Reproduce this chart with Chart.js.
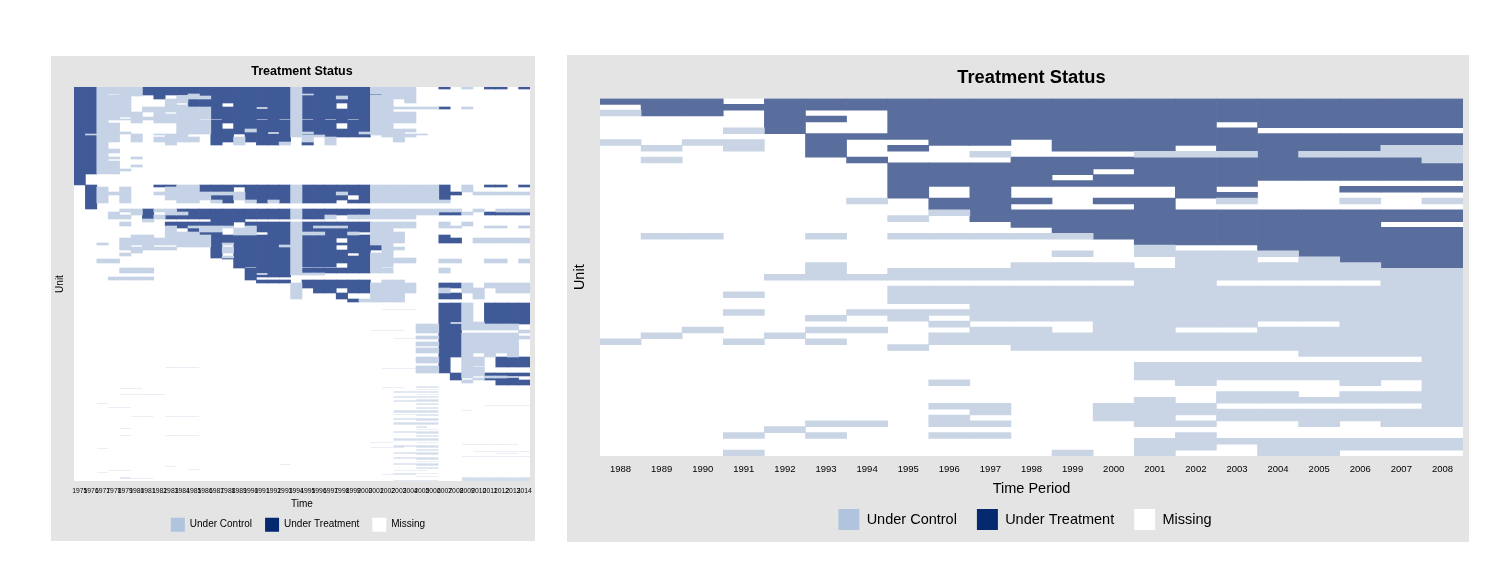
<!DOCTYPE html>
<html><head><meta charset="utf-8">
<script src="https://cdn.jsdelivr.net/npm/chart.js@4"></script>
<style>
html,body{margin:0;padding:0;background:#fff;width:1498px;height:578px;overflow:hidden}
.panel{position:absolute;background:#E4E4E4}
canvas{position:absolute}
</style></head><body>
<div class="panel" style="left:51px;top:56px;width:484px;height:485px"></div>
<div class="panel" style="left:567px;top:55px;width:902px;height:487px"></div>
<div style="position:absolute;left:51px;top:56px;width:484px;height:517px"><canvas id="left"></canvas></div>
<div style="position:absolute;left:567px;top:55px;width:902px;height:500px"><canvas id="right"></canvas></div>
<script>
const statusNames = ['Under Control','Under Treatment','Missing'];
const legendColors = ['#B0C4DE','#05296E','#FFFFFF'];
const rightCellColors = ['#C9D5E5','#5A6E9E','#FFFFFF'];
const leftCellColors = ['#C6D3E6','#3F5A97','#FFFFFF','#D3DDEB'];

/* ---- right panel: 1988-2008, 61 unit rows ---- */
const rightYears = ['1988','1989','1990','1991','1992','1993','1994','1995','1996','1997','1998','1999','2000','2001','2002','2003','2004','2005','2006','2007','2008'];
const rightRowCount = 61;
const rightTreated = [
 '0','0-2','0-2','1','0-5','0-1,3,6-9','0-1,6,10','0-6,8,11-16','0-7,11-14,17-18','0-7,11-20',
 '0-6,10-14,17,19-21','0-8,10-12,14,19-22','0-8,10-11,13-14,17,19-23','0-8,10-14,17-24','0-7,10-16,19-24',
 '0-3,5-8,10-14,16,19-24','0-4,6-13,19-25','0-4,6-8,10-13,19-26','0-4,6-8,10-13,15,19-27',
 '0-4,6-7,10-13,15,19-20,22-28','0-4,6-7,11-13,15,19-20,22-28'];
const rightControl = [
 '2,7,41','8,10,23,40','7,23,39','5,7-8,33,36,41,57,60','30,40,56','23,28-30,37,39,41,55,57','17,30,36,39,55',
 '20,23,29-30,32-34,36-37,42','19,23,29-30,32-34,36,38,40-41,48,52,54-55,57','9,23,29-30,32-37,39-41,52-53,55,57',
 '23,28-30,32-37,39-42','23,26,28-30,32-37,40-42,60','28-30,32-42,52-54','9,25-26,29-42,45-47,51-55,58-60',
 '9,26-38,40-42,45-48,52-53,55,57-59','9,17,26-30,32-38,40-42,45-47,50-51,53-54,58',
 '9,26,28-30,32-37,39-42,45-47,50-51,53-54,58-60','9,27-30,32-37,39-43,45-47,51,53-55,58-60',
 '9,17,28-30,32-43,45-48,50-51,53-54,58-59','8-9,29-43,45-47,50-51,53-55,58-59','8-10,17,29-55,58-59'];

/* ---- left panel: 1975-2014, 394 unit rows ---- */
const leftYears = ['1975','1976','1977','1978','1979','1980','1981','1982','1983','1984','1985','1986','1987','1988','1989','1990','1991','1992','1993','1994','1995','1996','1997','1998','1999','2000','2001','2002','2003','2004','2005','2006','2007','2008','2009','2010','2011','2012','2013','2014'];
const leftRowCount = 394;
/* [first row, status of each year: t treated, c control, . missing] */
const leftBands = [
 [0,'ttcccctttt tttttttttc ttttttcccc ..t.c.tt.t'],
 [2,'ttcccctttt tttttttttc ttttttcccc'],
 [7,'ttc.cctttt cttttttttc cttttttccc'],
 [8,'ttcccc.t.. cttttttttc ttttttcccc'],
 [9,'ttccc..t.c cctttttttc tttcttcccc'],
 [12,'ttccc...cc tttttttttc ttttttcc.c'],
 [16,'ttccc...c. ttt.tttttc ttt.ttcc..'],
 [18,'ttccc...cc ttt.tttttc ttt.ttcc..'],
 [20,'ttccc.cccc cctttt.ttc ttt.ttcccc cct.c.....'],
 [22,'ttccc.cccc cctttttttc ttttttcc..'],
 [25,'ttcccc.c.c cctttttttc ttttttcccc'],
 [27,'ttcccc.ccc cctttttttc ttttttcccc'],
 [30,'ttcc.ccccc cctttttttc ttttttcccc'],
 [32,'ttcccccccc c..ttt.t.c .t.t.tcccc'],
 [33,'ttc..c.ccc cctttttttc ttttttcccc'],
 [36,'ttcc.....c cct.tttttc ttt.ttcc..'],
 [42,'ttcc.....c cctttctttc ttttttcccc'],
 [45,'ttccc....c ccttttt.tc cttttcccc.'],
 [47,'tccc.c.ccc ..tt.ttttc ttttttcccc c.........'],
 [48,'ttcc.c..cc ..tt.ttttc cctttt.ccc'],
 [50,'ttcc.c.ccc c.ttctttt. c.c.....c.'],
 [55,'ttc.....c. ..t.c.ttc. t.c.......'],
 [58,'ttc'],[62,'ttcc'],[66,'ttc'],[70,'ttcc.c'],[72,'ttc'],[74,'ttcc'],[78,'ttcc.c'],[80,'ttcc'],[82,'ttccc'],[84,'ttcc'],
 [87,'t'],
 [98,'.t.....ttc cttttttttc ttttttcccc cct.c.tt.t'],
 [100,'.tc.c...cc cttt.ttttc ttttttcccc cct.c.....'],
 [105,'.tccc..ccc cccccttttc tttcttcccc cctt.ccccc'],
 [108,'.tc.c...cc ccttcttttc tttt.tcccc cct.......'],
 [113,'.tc.c....c c.ct.ctctc ttt.ttcccc ccc.......'],
 [116,'.t'],
 [122,'....cctcct tttttttttc ttttttcccc cccc.c.ccc'],
 [125,'...c.ct.cc tttttttttc ttttttcccc cctt c.tttt'],
 [128,'...cc.tctt tttttttttc ttc.cccccc'],
 [132,'......c... ..ttt.....'],
 [135,'....c...tt tttt.ttttc ttttttcccc ..c.c.....'],
 [139,'........ct cccc.ctttc tcccttcccc ..cc..cc.c'],
 [141,'........c. tcc.cctttc ttttttcc..'],
 [145,'........cc ctt.cc.ttc ccttc.ccc.'],
 [148,'.....cc.cc cctttttttc ttttttccc. ..t.......'],
 [151,'....cccccc cctttttttc ttt.ttccc. ..tt.ccccc'],
 [156,'..c.cccccc cctctttttc ttttttcc..'],
 [158,'....c.c..c cct.ttttcc ttt.tttc..'],
 [160,'....ccccc. ..tctttttc ttt.tttcc.'],
 [163,'.....c.... ..tctttttc tttttt.c..'],
 [166,'....c..... ..t.tttttc tttt.tcc..'],
 [169,'.......... ..tctttttc ttttttcc..'],
 [171,'.......... ...ttttttc ttttttcccc'],
 [172,'..cc...... ....tttttc ttttttcccc ..cc..cc.c'],
 [176,'.......... ....tttttc ttt.ttcc..'],
 [180,'.......... ....t.tttc ....ttc...'],
 [181,'....ccc... .....ttttc ttttttcc.. ..c.......'],
 [186,'.......... .....t.ttc cc........'],
 [188,'.......... .....tttt. ..........'],
 [190,'...cccc... .....t.... ..........'],
 [193,'.......... ......ttt. tttttt.cc.'],
 [196,'.......... .........c ttttttcccc ..ttc.cccc'],
 [201,'.......... .........c .tt.ttcccc ..c.cc.ccc'],
 [206,'.......... .........c ...t..ccc. ..tt.c....'],
 [212,'.......... .......... ....tcccc.'],
 [215,''],
 [216,'.......... .......... .......... ..ttc.tttt'],
 [235,'.......... .......... .......... ..t.cctttt'],
 [237,'.......... .......... .......... ccttccccc.'],
 [243,'.......... .......... .......... cctt.....c'],
 [246,'.......... .......... .......... ..ttccccc.'],
 [249,'.......... .......... .......... ccttcccccc'],
 [252,'.......... .......... .......... ..ttccccc.'],
 [255,'.......... .......... .......... ccttccccc.'],
 [259,'.......... .......... .......... ..ttccccc.'],
 [261,'.......... .......... .......... ccttccccc.'],
 [266,'.......... .......... .......... ..ttc.c.c.'],
 [270,'.......... .......... .......... cct.cc.ttt'],
 [276,'.......... .......... .......... ..t.cc.ttt'],
 [279,'.......... .......... .......... cct.c..ttt'],
 [280,'.......... .......... .......... cct.cc....'],
 [286,'.......... .......... .......... ...tcctttt'],
 [289,'.......... .......... .......... ...tc.cc..'],
 [291,'.......... .......... .......... ...t.cttt.'],
 [293,'.......... .......... .......... ....c..ttt'],
 [296,'.......... .......... .......... .......ttt'],
 [298,'']
];
/* thin single-row control lines: [row, first year index, last year index] */
const leftThinLines = [
 [222,27,29],[243,26,28],[251,28,29],[281,27,29],[280,8,10],
 [301,4,5],[307,4,7],[316,2,2],[320,3,4],[329,5,6],[329,8,10],[341,4,4],[348,4,4],[348,8,10],[361,2,2],
 [377,18,18],[379,8,8],[382,10,10],[383,3,4],[385,2,2],[390,4,4],[391,4,6],
 [318,36,39],[323,34,34],[357,34,38],[364,35,39],[366,37,38],[369,34,39],[390,34,39],[391,34,39],[392,34,39],[393,34,39],
 [355,26,27],[360,26,28],[387,27,29],[300,27,28],
 [299,30,31],[300,30,31],[302,30,31],[304,28,31],[305,28,31],[307,30,31],[309,28,31],[310,28,31],[312,30,31],[313,28,31],[314,28,31],[316,30,31],[317,30,31],
 [320,30,31],[321,30,31],[323,28,31],[324,28,31],[325,28,31],[327,28,31],[328,30,31],[331,28,31],[332,28,31],[333,30,31],[335,28,31],[336,28,31],[337,28,31],
 [339,30,30],[340,30,30],[342,30,31],[344,28,31],[345,28,31],[346,30,31],[348,30,31],[349,30,31],[351,28,31],[352,28,31],[353,28,31],[355,30,31],
 [358,28,31],[359,28,31],[360,30,31],[362,30,31],[363,30,31],[365,28,31],[366,28,31],[367,30,31],[370,28,31],[371,28,31],[372,30,31],[374,30,31],
 [376,28,31],[377,28,31],[378,30,31],[380,30,31],[381,30,31],[383,28,30],[386,28,31],[389,30,31],[393,28,31]
];

function expandRuns(text){
  const out=[];
  text.split(',').forEach(p=>{const [a,b]=p.split('-').map(Number);for(let i=a;i<=(b===undefined?a:b);i++)out.push(i);});
  return out;
}
function rightGrid(){
  return rightYears.map((_,k)=>{
    const col=new Array(rightRowCount).fill(2);
    expandRuns(rightControl[k]).forEach(r=>col[r]=0);
    expandRuns(rightTreated[k]).forEach(r=>col[r]=1);
    return col;
  });
}
function leftGrid(){
  const cols=leftYears.map(()=>new Array(leftRowCount).fill(2));
  leftBands.forEach(([start,pat],i)=>{
    const end=i+1<leftBands.length?leftBands[i+1][0]:leftRowCount;
    const s=pat.replace(/ /g,'');
    for(let r=start;r<end;r++)for(let k=0;k<40;k++){
      const ch=s[k]||'.';
      cols[k][r]=ch==='t'?1:ch==='c'?0:2;
    }
  });
  leftThinLines.forEach(([r,a,b])=>{for(let k=a;k<=b;k++)cols[k][r]=3;});
  return cols;
}
function buildDatasets(cols,labels,colors){
  const series=colors.map(()=>[]);
  cols.forEach((col,k)=>{
    let start=0;
    for(let r=1;r<=col.length;r++){
      if(r===col.length||col[r]!==col[start]){
        series[col[start]].push({x:labels[k],y:[start,r]});
        start=r;
      }
    }
  });
  return series.map((data,i)=>({label:statusNames[i]||statusNames[0],data,backgroundColor:colors[i],borderWidth:0,
    grouped:false,barPercentage:1,categoryPercentage:1}));
}
const legendPlace={id:'legendPlace',afterLayout(chart,args,opts){
  const l=chart.legend;const dx=opts.center-(l.left+l.right)/2;
  l.left+=dx;l.right+=dx;const h=l.height;l.top=opts.top;l.bottom=opts.top+h;
}};
function draw(id,cols,labels,colors,rowCount,g){
  const cv=document.getElementById(id);
  const font='"Liberation Sans", Arial, sans-serif';
  return new Chart(cv,{type:'bar',plugins:[legendPlace],
    data:{labels,datasets:buildDatasets(cols,labels,colors)},
    options:{responsive:false,animation:false,devicePixelRatio:1,
      layout:{padding:{left:0,right:g.padRight,top:0,bottom:0}},
      scales:{
        x:{type:'category',grid:{display:false,drawTicks:false},border:{display:false},
          ticks:{color:'#000',autoSkip:false,minRotation:0,maxRotation:0,padding:g.tickPad,font:{family:font,size:g.tickSize}},
          title:{display:true,text:g.xTitle,color:'#000',font:{family:font,size:g.axisSize},padding:{top:0,bottom:g.xTitlePad}},
          afterFit(s){s.height=g.xHeight;s.paddingLeft=0;s.paddingRight=0;}},
        y:{type:'linear',reverse:true,min:0,max:rowCount,grid:{display:false,drawTicks:false},border:{display:false},
          ticks:{display:false},
          title:{display:true,text:'Unit',color:'#000',font:{family:font,size:g.axisSize},padding:{top:g.yTitlePad,bottom:0}},
          afterFit(s){s.width=g.yWidth;}}
      },
      plugins:{
        tooltip:{enabled:false},
        title:{display:true,text:'Treatment Status',color:'#000',fullSize:false,
          font:{family:font,size:g.titleSize,weight:'bold',lineHeight:1.2},padding:g.titlePad},
        legend:{position:'bottom',
          labels:{boxWidth:g.boxSize,boxHeight:g.boxSize,padding:g.legendPad,color:'#000',font:{family:font,size:g.legendSize},
            generateLabels:()=>statusNames.map((text,i)=>({text,fillStyle:legendColors[i],strokeStyle:legendColors[i],lineWidth:0,hidden:false,datasetIndex:i,fontColor:'#000'}))},
          },
        legendPlace:{center:g.legendCenter,top:g.legendTop}
      }
    }
  });
}
function size(id,w,h){const c=document.getElementById(id);c.width=w;c.height=h;c.style.width=w+'px';c.style.height=h+'px';}
size('left',484,517);size('right',902,500);
draw('left',leftGrid(),leftYears,leftCellColors,leftRowCount,{
  padRight:5,tickPad:6,tickSize:6.8,axisSize:10,xTitle:'Time',xTitlePad:26,xHeight:55,yTitlePad:3,yWidth:23,
  titleSize:12.5,titlePad:{top:8.5,bottom:7.5},boxSize:14,legendPad:13,legendSize:10,legendCenter:247,legendTop:448.7});
draw('right',rightGrid(),rightYears,rightCellColors,rightRowCount,{
  padRight:6,tickPad:8,tickSize:9.5,axisSize:14.5,xTitle:'Time Period',xTitlePad:6,xHeight:48,yTitlePad:4,yWidth:33,
  titleSize:18.3,titlePad:{top:12,bottom:9.5},boxSize:21,legendPad:20,legendSize:14.5,legendCenter:458,legendTop:434});
</script>
</body></html>
